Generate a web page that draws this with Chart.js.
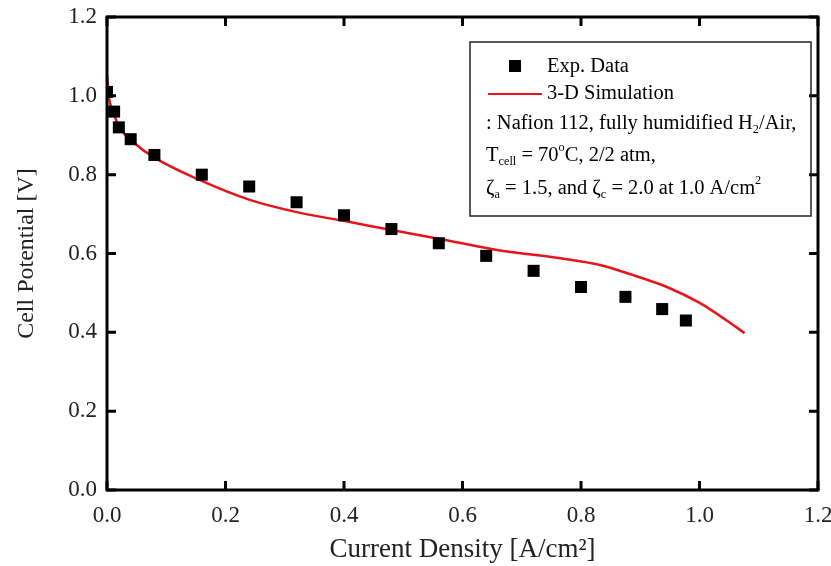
<!DOCTYPE html>
<html>
<head>
<meta charset="utf-8">
<script src="https://cdn.jsdelivr.net/npm/chart.js@4.4.0/dist/chart.umd.min.js"></script>
<style>
  html, body { margin: 0; padding: 0; background: #fff; }
  #wrap { width: 831px; height: 566px; }
</style>
</head>
<body>
<div id="wrap"><canvas id="chart"></canvas></div>
<script>
// Exp. data (current density [A/cm2], cell potential [V])
const expCurrent = [0.0, 0.012, 0.02, 0.04, 0.08, 0.16, 0.24, 0.32, 0.40, 0.48, 0.56, 0.64, 0.72, 0.80, 0.875, 0.937, 0.977];
const expVoltage = [1.01, 0.96, 0.92, 0.89, 0.85, 0.80, 0.77, 0.73, 0.697, 0.662, 0.626, 0.594, 0.556, 0.515, 0.49, 0.459, 0.43];

// 3-D simulation curve
const simCurrent = [0.0, 0.003, 0.011, 0.022, 0.044, 0.078, 0.157, 0.241, 0.326, 0.41, 0.478, 0.562, 0.658, 0.765, 0.832, 0.888, 0.945, 1.001, 1.046, 1.076];
const simVoltage = [1.053, 1.0, 0.956, 0.918, 0.883, 0.845, 0.786, 0.736, 0.703, 0.68, 0.66, 0.637, 0.609, 0.588, 0.571, 0.545, 0.515, 0.474, 0.43, 0.398];

// Axis ticks
const xTicks = [0.0, 0.2, 0.4, 0.6, 0.8, 1.0, 1.2];
const yTicks = [0.0, 0.2, 0.4, 0.6, 0.8, 1.0, 1.2];

// Texts
const xTitle = 'Current Density [A/cm\u00B2]';
const yTitle = 'Cell Potential [V]';
const expLabel = 'Exp. Data';
const simLabel = '3-D Simulation';
const noteLines = [
    [{t: ': Nafion 112, fully humidified H'}, {t: '2', sub: true}, {t: '/Air,'}],
    [{t: 'T'}, {t: 'cell', sub: true}, {t: ' = 70'}, {t: 'o', sup: true}, {t: 'C, 2/2 atm,'}],
    [{t: '\u03B6'}, {t: 'a', sub: true}, {t: ' = 1.5, and \u03B6'}, {t: 'c', sub: true}, {t: ' = 2.0 at 1.0 A/cm'}, {t: '2', sup: true}]
];

const FONT = '"Liberation Serif", "Times New Roman", serif';
const RED = '#e8141b';

function drawRich(ctx, parts, x, y, size) {
    parts.forEach(p => {
        const small = p.sub || p.sup;
        const s = small ? size * 0.6 : size;
        ctx.font = s + 'px ' + FONT;
        const dy = p.sub ? size * 0.3 : (p.sup ? -size * 0.4 : 0);
        ctx.fillText(p.t, x, y + dy);
        x += ctx.measureText(p.t).width;
    });
}

// Frame with inward ticks
const framePlugin = {
    id: 'frame',
    afterDatasetsDraw(chart) {
        const {ctx, chartArea: a, scales: {x, y}} = chart;
        ctx.save();
        ctx.strokeStyle = '#000';
        ctx.lineWidth = 3;
        ctx.strokeRect(a.left, a.top, a.right - a.left, a.bottom - a.top);
        ctx.beginPath();
        x.ticks.forEach(t => {
            const px = x.getPixelForValue(t.value);
            ctx.moveTo(px, a.bottom); ctx.lineTo(px, a.bottom - 9);
            ctx.moveTo(px, a.top); ctx.lineTo(px, a.top + 9);
        });
        y.ticks.forEach(t => {
            const py = y.getPixelForValue(t.value);
            ctx.moveTo(a.left, py); ctx.lineTo(a.left + 9, py);
            ctx.moveTo(a.right, py); ctx.lineTo(a.right - 9, py);
        });
        ctx.stroke();
        ctx.restore();
    }
};

// Legend box with notes
const notePlugin = {
    id: 'note',
    afterDraw(chart) {
        const {ctx} = chart;
        const size = 20.5;
        ctx.save();
        ctx.strokeStyle = '#222';
        ctx.lineWidth = 1.5;
        ctx.strokeRect(470, 42, 341, 174);
        ctx.fillStyle = '#000';
        ctx.textBaseline = 'middle';
        // marker
        ctx.fillRect(509, 60, 12, 12);
        ctx.font = size + 'px ' + FONT;
        ctx.fillText(expLabel, 547, 67);
        // line
        ctx.strokeStyle = RED;
        ctx.lineWidth = 2;
        ctx.beginPath();
        ctx.moveTo(488, 94); ctx.lineTo(542, 94);
        ctx.stroke();
        ctx.fillText(simLabel, 547, 94);
        const ys = [124, 156, 189];
        noteLines.forEach((line, i) => drawRich(ctx, line, 486, ys[i], size));
        ctx.restore();
    }
};

const ctx = document.getElementById('chart').getContext('2d');
new Chart(ctx, {
    type: 'scatter',
    data: {
        datasets: [{
            label: simLabel,
            data: simCurrent.map((c, i) => ({x: c, y: simVoltage[i]})),
            showLine: true,
            borderColor: RED,
            borderWidth: 2.5,
            pointRadius: 0,
            cubicInterpolationMode: 'monotone',
            order: 2
        }, {
            label: expLabel,
            data: expCurrent.map((c, i) => ({x: c, y: expVoltage[i]})),
            pointStyle: 'rect',
            pointRadius: 8.5,
            backgroundColor: '#000',
            borderColor: '#000',
            borderWidth: 0,
            order: 1
        }]
    },
    options: {
        responsive: true,
        maintainAspectRatio: false,
        animation: false,
        layout: { padding: { left: 0, top: 17, right: 13, bottom: 0 } },
        plugins: {
            legend: { display: false },
            tooltip: { enabled: false }
        },
        scales: {
            x: {
                type: 'linear',
                min: 0, max: 1.2,
                afterBuildTicks: s => { s.ticks = xTicks.map(v => ({value: v})); },
                afterFit: s => { s.height = 76; s.paddingLeft = 0; s.paddingRight = 0; },
                grid: { display: false, drawTicks: false },
                border: { display: false },
                ticks: {
                    padding: 12,
                    color: '#222',
                    font: { family: FONT, size: 23 },
                    callback: v => v.toFixed(1)
                },
                title: {
                    display: true,
                    text: xTitle,
                    color: '#222',
                    font: { family: FONT, size: 27 },
                    padding: { top: 0, bottom: 0 }
                }
            },
            y: {
                type: 'linear',
                min: 0, max: 1.2,
                afterBuildTicks: s => { s.ticks = yTicks.map(v => ({value: v})); },
                afterFit: s => { s.width = 107; s.paddingTop = 0; s.paddingBottom = 0; },
                grid: { display: false, drawTicks: false },
                border: { display: false },
                ticks: {
                    padding: 10,
                    color: '#222',
                    font: { family: FONT, size: 23 },
                    callback: v => v.toFixed(1)
                },
                title: {
                    display: true,
                    text: yTitle,
                    color: '#222',
                    font: { family: FONT, size: 24 },
                    padding: { top: 12, bottom: 0 }
                }
            }
        }
    },
    plugins: [framePlugin, notePlugin]
});
</script>
</body>
</html>
